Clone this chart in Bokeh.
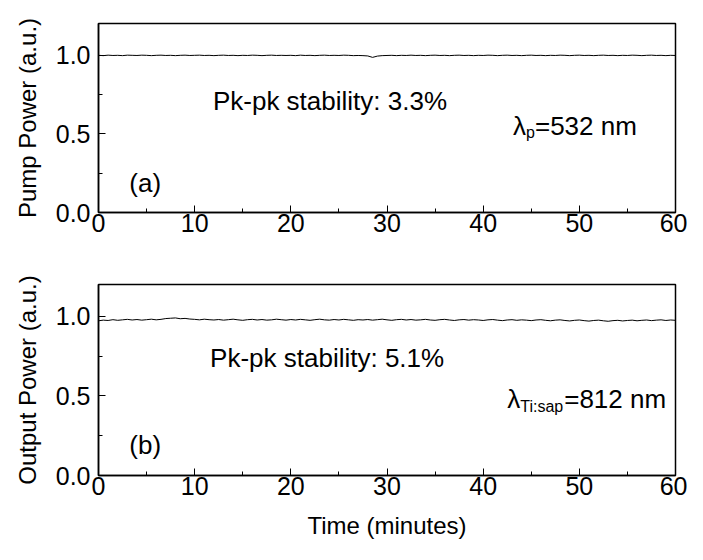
from bokeh.plotting import figure
from bokeh.layouts import column
from bokeh.models import Range1d, FixedTicker, PrintfTickFormatter, Label
from bokeh.embed import file_html
from bokeh.resources import INLINE

# time axis: every 0.5 minute
time_min = [i * 0.5 for i in range(121)]

pump_power = [
    0.998, 0.996, 0.999, 0.997, 0.998, 0.996, 0.999, 0.998, 0.997, 0.999,
    0.998, 0.996, 0.998, 0.999, 0.997, 0.998, 0.996, 0.998, 0.999, 0.997,
    0.998, 0.999, 0.997, 0.998, 0.996, 0.998, 0.999, 0.997, 0.998, 0.996,
    0.998, 0.997, 0.999, 0.998, 0.996, 0.998, 0.999, 0.997, 0.998, 0.997,
    0.998, 0.996, 0.999, 0.997, 0.998, 0.996, 0.998, 0.999, 0.997, 0.998,
    0.997, 0.999, 0.998, 0.996, 0.997, 0.996, 0.994, 0.985, 0.993, 0.996,
    0.997, 0.998, 0.996, 0.998, 0.997, 0.999, 0.997, 0.998, 0.996, 0.998,
    0.999, 0.997, 0.998, 0.996, 0.998, 0.999, 0.997, 0.998, 0.996, 0.998,
    0.997, 0.999, 0.998, 0.996, 0.998, 0.999, 0.997, 0.998, 0.996, 0.998,
    0.999, 0.997, 0.998, 0.996, 0.998, 0.997, 0.999, 0.998, 0.996, 0.998,
    0.999, 0.997, 0.998, 0.996, 0.998, 0.999, 0.997, 0.998, 0.996, 0.998,
    0.997, 0.999, 0.998, 0.996, 0.998, 0.999, 0.997, 0.998, 0.996, 0.998,
    0.997,
]

output_power = [
    0.972, 0.976, 0.974, 0.979, 0.975, 0.978, 0.981, 0.977, 0.980, 0.976,
    0.979, 0.982, 0.978, 0.981, 0.986, 0.988, 0.990, 0.985, 0.987, 0.983,
    0.981, 0.978, 0.982, 0.979, 0.977, 0.980, 0.976, 0.979, 0.982, 0.978,
    0.975, 0.979, 0.981, 0.977, 0.980, 0.976, 0.978, 0.982, 0.979, 0.976,
    0.980, 0.977, 0.981, 0.978, 0.975, 0.979, 0.982, 0.978, 0.976, 0.980,
    0.977, 0.981, 0.978, 0.975, 0.979, 0.977, 0.980, 0.976, 0.979, 0.982,
    0.978, 0.975, 0.979, 0.981, 0.977, 0.980, 0.976, 0.978, 0.981, 0.977,
    0.975, 0.979, 0.981, 0.977, 0.974, 0.978, 0.980, 0.976, 0.979, 0.977,
    0.974, 0.978, 0.980, 0.976, 0.973, 0.977, 0.979, 0.975, 0.978, 0.976,
    0.973, 0.977, 0.979, 0.975, 0.972, 0.976, 0.978, 0.974, 0.971, 0.975,
    0.977, 0.973, 0.970, 0.974, 0.976, 0.972, 0.969, 0.973, 0.975, 0.971,
    0.974, 0.976, 0.972, 0.975, 0.977, 0.973, 0.976, 0.978, 0.974, 0.977,
    0.975,
]

x_ticks = [0, 10, 20, 30, 40, 50, 60]
y_ticks = [0.0, 0.5, 1.0]

FONT = "Liberation Sans"


def make_panel(y, ylabel, height, top, bottom, xlabel=None):
    p = figure(width=687, height=height, output_backend="svg", toolbar_location=None,
               x_range=Range1d(0, 60), y_range=Range1d(0, 1.2),
               min_border_left=98, min_border_right=12,
               min_border_top=top, min_border_bottom=bottom)
    p.line(time_min, y, line_color="black", line_width=1)
    p.grid.visible = False
    p.outline_line_color = "black"
    p.outline_line_width = 1.5
    p.background_fill_color = "white"
    p.border_fill_color = "white"
    for ax in (p.xaxis[0], p.yaxis[0]):
        ax.axis_line_color = "black"
        ax.axis_line_width = 1.5
        ax.major_tick_in = 7
        ax.major_tick_out = 0
        ax.minor_tick_in = 4
        ax.minor_tick_out = 0
        ax.major_tick_line_color = "black"
        ax.minor_tick_line_color = "black"
        ax.major_label_text_font = FONT
        ax.major_label_text_font_size = "25px"
        ax.major_label_text_color = "black"
        ax.axis_label_text_font = FONT
        ax.axis_label_text_font_size = "24px"
        ax.axis_label_text_font_style = "normal"
        ax.axis_label_text_color = "black"
    p.xaxis.ticker = FixedTicker(ticks=x_ticks, minor_ticks=[5, 15, 25, 35, 45, 55])
    p.yaxis.ticker = FixedTicker(ticks=y_ticks, minor_ticks=[0.25, 0.75])
    p.yaxis.formatter = PrintfTickFormatter(format="%.1f")
    p.xaxis.major_label_standoff = 1
    p.yaxis.major_label_standoff = 8
    p.yaxis.axis_label = ylabel
    p.yaxis.axis_label_standoff = 12
    if xlabel:
        p.xaxis.axis_label = xlabel
        p.xaxis.axis_label_standoff = 14
    return p


def add_text(p, x, y, text, size="26px", x_offset=0, y_offset=0):
    p.add_layout(Label(x=x, y=y, text=text, text_font=FONT, text_font_size=size,
                       text_color="black", x_offset=x_offset, y_offset=y_offset,
                       text_baseline="alphabetic"))


top = make_panel(pump_power, "Pump Power (a.u.)", 254, 23, 42)
add_text(top, 11.9, 0.71, "Pk-pk stability: 3.3%")
add_text(top, 43.1, 0.55, "λ")
add_text(top, 43.1, 0.55, "p", size="16px", x_offset=13, y_offset=-7)
add_text(top, 43.1, 0.55, "=532 nm", x_offset=22)
add_text(top, 3.2, 0.19, "(a)")

bot = make_panel(output_power, "Output Power (a.u.)", 290, 30, 69, xlabel="Time (minutes)")
add_text(bot, 11.6, 0.74, "Pk-pk stability: 5.1%")
add_text(bot, 42.5, 0.48, "λ")
add_text(bot, 42.5, 0.48, "Ti:sap", size="16px", x_offset=13, y_offset=-7)
add_text(bot, 42.5, 0.48, "=812 nm", x_offset=57)
add_text(bot, 3.2, 0.19, "(b)")

layout = column(top, bot, spacing=0)
open("out.html", "w").write(file_html(layout, INLINE))
